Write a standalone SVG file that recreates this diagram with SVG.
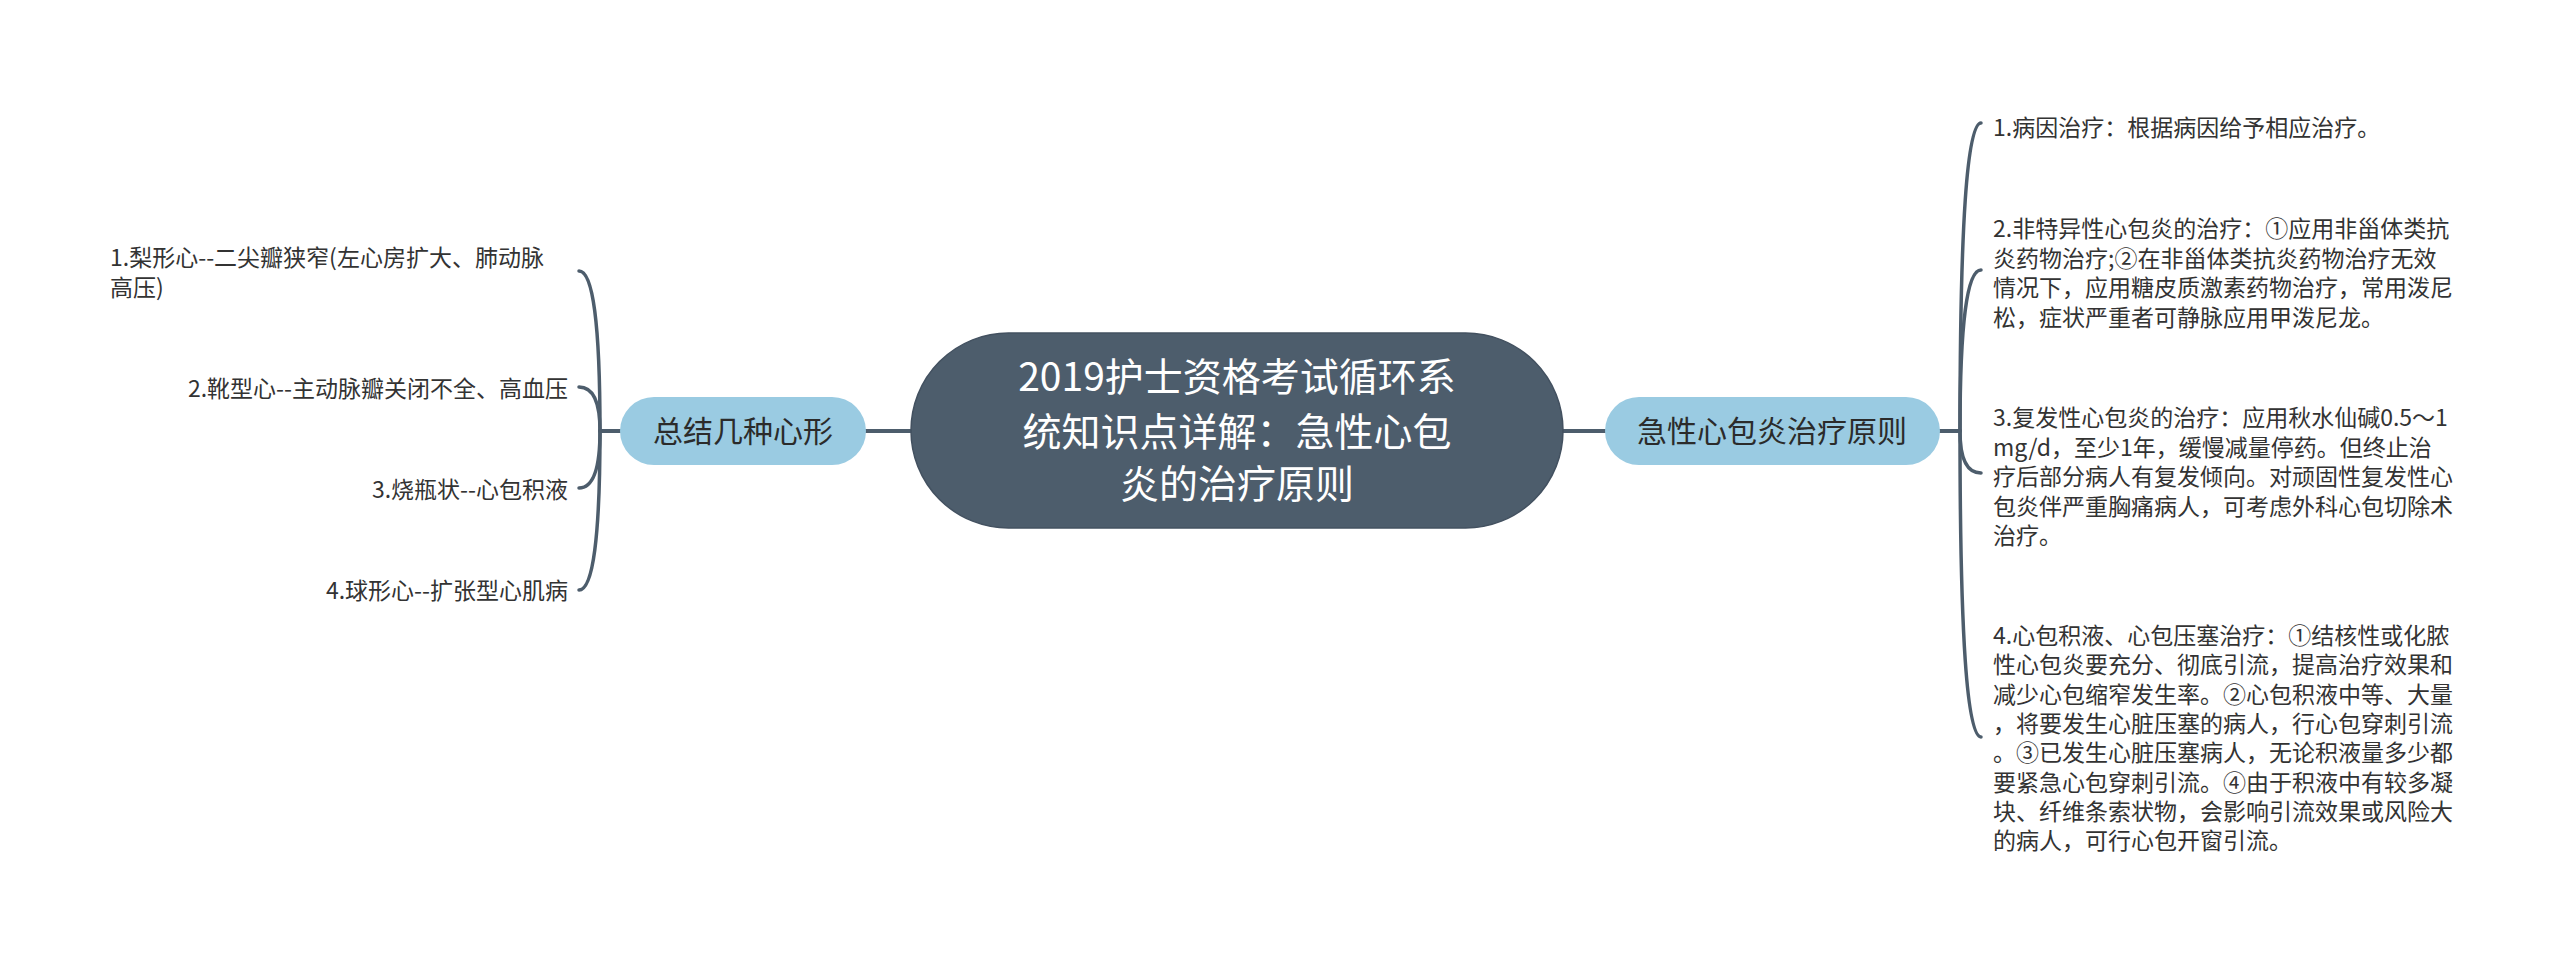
<svg xmlns="http://www.w3.org/2000/svg" width="2560" height="965" viewBox="0 0 2560 965">
<style>
.conn{fill:none;stroke:#4d5d6c;stroke-linecap:round}
.main{stroke-width:4}
.br{stroke-width:3.5}
.t{font-family:"Noto Sans CJK SC","Liberation Sans",sans-serif}
.center{fill:#4d5d6c;stroke:#435160;stroke-width:1.5}
.sub{fill:#9acbe2}
.ct{fill:#ffffff;font-size:39px;text-anchor:middle}
.st{fill:#2b2b2b;font-size:30px;text-anchor:middle}
.lt{fill:#333333;font-size:23px}
</style>
<rect width="2560" height="965" fill="#ffffff"/>
<g id="connectors">
<path class="conn main" d="M866 431 H911"/>
<path class="conn main" d="M1563 431 H1605"/>
<path class="conn main" d="M600 431 H620"/>
<path class="conn main" d="M1940 431 H1960"/>
<path class="conn br" d="M600 431 Q600 271 579 271"/>
<path class="conn br" d="M600 431 Q600 387 579 387"/>
<path class="conn br" d="M600 431 Q600 488 579 488"/>
<path class="conn br" d="M600 431 Q600 590 579 590"/>
<path class="conn br" d="M1960 431 Q1960 123 1981 123"/>
<path class="conn br" d="M1960 431 Q1960 270 1981 270"/>
<path class="conn br" d="M1960 431 Q1960 473 1981 473"/>
<path class="conn br" d="M1960 431 Q1960 737 1981 737"/>
</g>
<g id="root">
<rect class="center" x="911" y="333" width="652" height="195" rx="97.5"/>
<text class="t ct" x="1237" y="391">2019护士资格考试循环系</text>
<text class="t ct" x="1237" y="446">统知识点详解：急性心包</text>
<text class="t ct" x="1237" y="498">炎的治疗原则</text>
</g>
<g id="left-topic">
<rect class="sub" x="620" y="397" width="246" height="68" rx="34"/>
<text class="t st" x="743" y="442">总结几种心形</text>
</g>
<g id="right-topic">
<rect class="sub" x="1605" y="397" width="335" height="68" rx="34"/>
<text class="t st" x="1772" y="442">急性心包炎治疗原则</text>
</g>
<g id="left-1">
<text class="t lt" x="110" y="266">1.梨形心--二尖瓣狭窄(左心房扩大、肺动脉</text>
<text class="t lt" x="110" y="296">高压)</text>
</g>
<g id="left-2"><text class="t lt" x="568" y="397" text-anchor="end">2.靴型心--主动脉瓣关闭不全、高血压</text></g>
<g id="left-3"><text class="t lt" x="568" y="498" text-anchor="end">3.烧瓶状--心包积液</text></g>
<g id="left-4"><text class="t lt" x="568" y="599" text-anchor="end">4.球形心--扩张型心肌病</text></g>
<g id="right-1"><text class="t lt" x="1993" y="136">1.病因治疗：根据病因给予相应治疗。</text></g>
<g id="right-2">
<text class="t lt" x="1993" y="237">2.非特异性心包炎的治疗：①应用非甾体类抗</text>
<text class="t lt" x="1993" y="267">炎药物治疗;②在非甾体类抗炎药物治疗无效</text>
<text class="t lt" x="1993" y="296">情况下，应用糖皮质激素药物治疗，常用泼尼</text>
<text class="t lt" x="1993" y="326">松，症状严重者可静脉应用甲泼尼龙。</text>
</g>
<g id="right-3">
<text class="t lt" x="1993" y="426">3.复发性心包炎的治疗：应用秋水仙碱0.5～1</text>
<text class="t lt" x="1993" y="455.5">mg/d，至少1年，缓慢减量停药。但终止治</text>
<text class="t lt" x="1993" y="485">疗后部分病人有复发倾向。对顽固性复发性心</text>
<text class="t lt" x="1993" y="514.5">包炎伴严重胸痛病人，可考虑外科心包切除术</text>
<text class="t lt" x="1993" y="544">治疗。</text>
</g>
<g id="right-4">
<text class="t lt" x="1993" y="644">4.心包积液、心包压塞治疗：①结核性或化脓</text>
<text class="t lt" x="1993" y="673.3">性心包炎要充分、彻底引流，提高治疗效果和</text>
<text class="t lt" x="1993" y="702.6">减少心包缩窄发生率。②心包积液中等、大量</text>
<text class="t lt" x="1993" y="731.9">，将要发生心脏压塞的病人，行心包穿刺引流</text>
<text class="t lt" x="1993" y="761.2">。③已发生心脏压塞病人，无论积液量多少都</text>
<text class="t lt" x="1993" y="790.5">要紧急心包穿刺引流。④由于积液中有较多凝</text>
<text class="t lt" x="1993" y="819.8">块、纤维条索状物，会影响引流效果或风险大</text>
<text class="t lt" x="1993" y="849.1">的病人，可行心包开窗引流。</text>
</g>
</svg>
